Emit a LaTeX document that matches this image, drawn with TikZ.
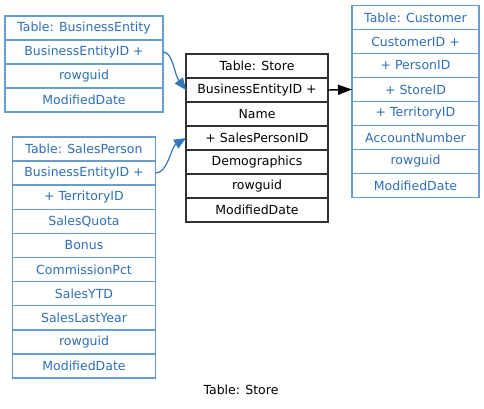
\documentclass[tikz,border=0pt]{standalone}
\usepackage{fontspec}
\setmainfont{DejaVu Sans}
\usetikzlibrary{arrows.meta}
\definecolor{tblue}{RGB}{46,110,180}
\definecolor{bblue}{RGB}{104,156,206}
\definecolor{ablue}{RGB}{52,118,188}
\definecolor{sgray}{RGB}{50,50,50}
\tikzset{
  row/.style={rectangle, draw, line width=1.4pt, inner sep=0pt, outer sep=0pt,
    minimum height=24pt, anchor=north west, font=\fontsize{12.5}{14}\selectfont},
  bluerow/.style={row, draw=bblue, text=tblue},
  blackrow/.style={row, draw=sgray, text=black},
  fk/.style={ablue, line width=1.2pt, -{Triangle[length=12pt,width=10pt]}},
  pk/.style={sgray, line width=1.4pt, -{Triangle[length=14pt,width=10pt]}, black},
}
\begin{document}
\begin{tikzpicture}[x=1pt,y=-1pt]
\useasboundingbox (0,0) rectangle (484,409);
% BusinessEntity
\foreach \t [count=\i from 0] in {Table: BusinessEntity,BusinessEntityID +,rowguid,ModifiedDate}
  \node[bluerow, minimum width=158pt] (be\i) at (5,{16+24*\i}) {\t};
% SalesPerson
\foreach \t [count=\i from 0] in {Table: SalesPerson,BusinessEntityID +,+ TerritoryID,SalesQuota,Bonus,CommissionPct,SalesYTD,SalesLastYear,rowguid,ModifiedDate}
  \node[bluerow, minimum width=143pt] (sp\i) at (12.5,{137+24.1*\i}) {\t};
% Store
\foreach \t [count=\i from 0] in {Table: Store,BusinessEntityID +,Name,+ SalesPersonID,Demographics,rowguid,ModifiedDate}
  \node[blackrow, minimum width=142pt] (st\i) at (186,{54+24*\i}) {\t};
% Customer
\foreach \t [count=\i from 0] in {Table: Customer,CustomerID +,+ PersonID,+ StoreID,+ TerritoryID,AccountNumber,rowguid,ModifiedDate}
  \node[bluerow, minimum width=127pt] (cu\i) at (352,{5.5+24*\i}) {\t};
% caption
\node[font=\fontsize{12.5}{14}\selectfont] (cap) at (241,390) {Table: Store};
% connectors
\draw[fk] (be1.east) .. controls (173,52) and (174,74) .. (st1.west);
\draw[fk] (sp1.east) .. controls (168,173) and (171,147) .. (st3.west);
\draw[pk] (st1.east) -- (cu3.west);
\end{tikzpicture}
\end{document}
